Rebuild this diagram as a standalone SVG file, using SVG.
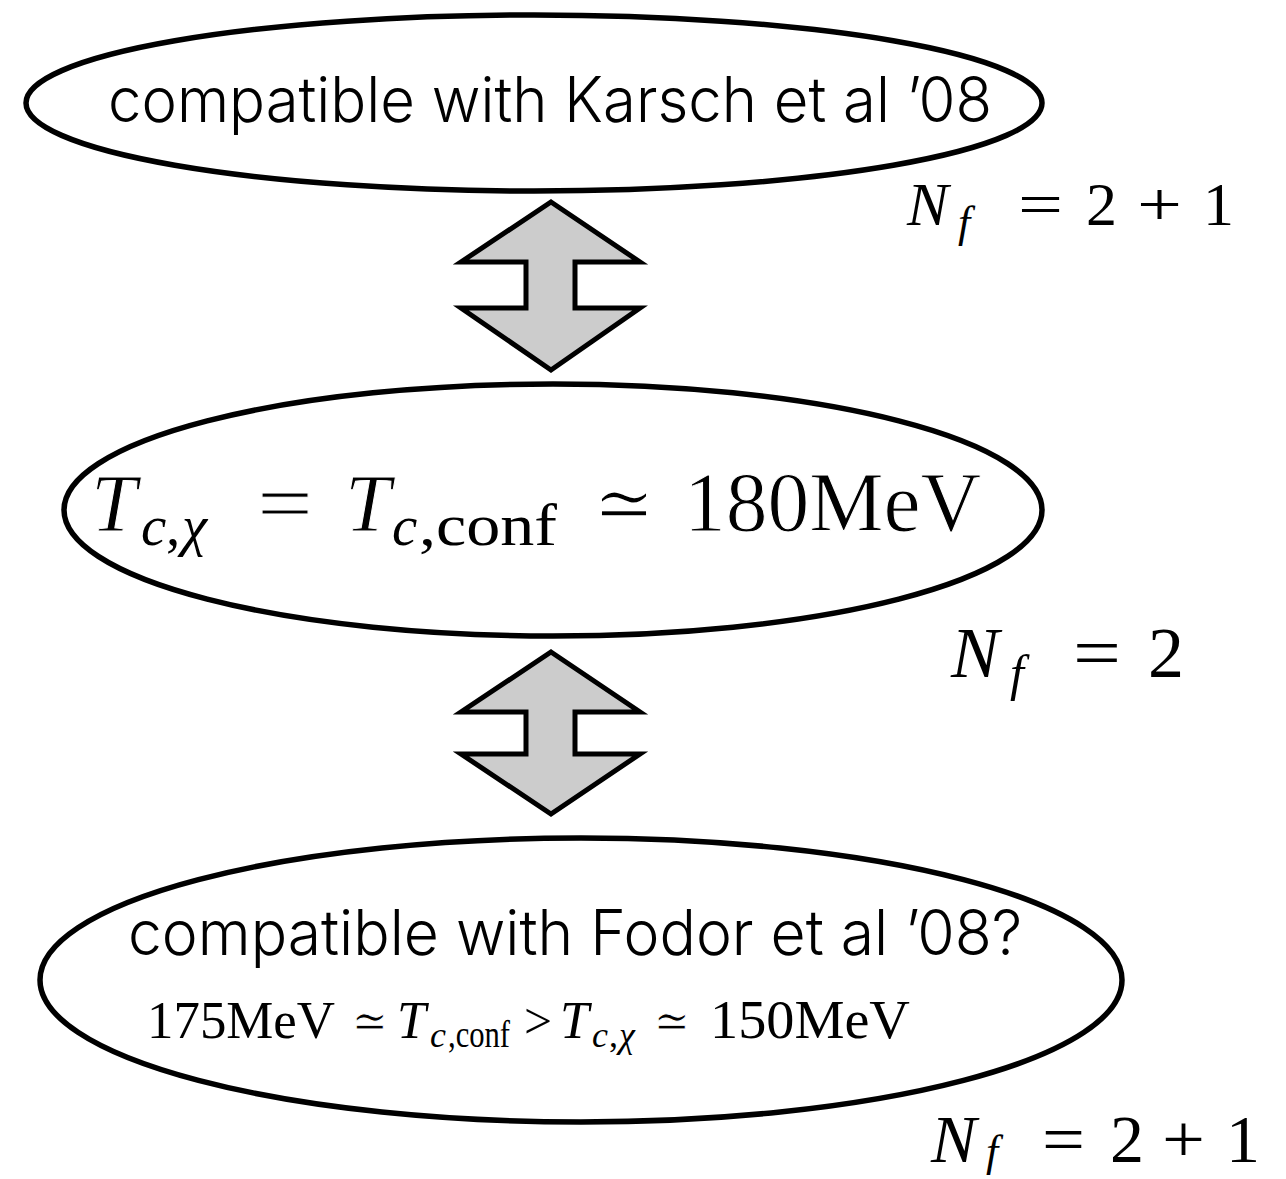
<svg xmlns="http://www.w3.org/2000/svg" width="1286" height="1179" viewBox="0 0 1286 1179">
<style>
.node{fill:#ffffff;stroke:#000000;stroke-width:5.5}
.arrow{fill:#cccccc;stroke:#000000;stroke-width:5;stroke-linejoin:miter}
.sans{font-family:"Inter","Liberation Sans",Arial,sans-serif;font-weight:300;fill:#000000}
.m{font-family:"Liberation Serif","DejaVu Serif",serif;fill:#000000}
.i{font-style:italic}
.thin{stroke:#ffffff;stroke-width:1}
.thin2{stroke:#ffffff;stroke-width:2.5}
</style>
<rect width="1286" height="1179" fill="#ffffff"/>
<g id="connectors">
<polygon class="arrow" points="551,202 640,262 575,262 575,308 640,308 551,370 461,308 526,308 526,262 461,262"/>
<polygon class="arrow" points="551,652 640,712 575,712 575,754 640,754 551,814 461,754 526,754 526,712 461,712"/>
</g>
<g id="node-karsch">
<ellipse class="node" cx="534" cy="103" rx="508" ry="88"/>
<text class="sans" x="108" y="122" font-size="63" textLength="884" lengthAdjust="spacingAndGlyphs">compatible with Karsch et al ’08</text>
</g>
<g id="node-tc">
<ellipse class="node" cx="553" cy="510" rx="489" ry="126"/>
<text class="m i thin" x="91" y="531" font-size="82">T</text>
<text class="m i" x="141" y="545" font-size="57">c</text>
<text class="m" x="166" y="545" font-size="57">,</text>
<text class="m i" x="182" y="545" font-size="57">χ</text>
<text class="m thin" x="257" y="531" font-size="82" textLength="56" lengthAdjust="spacingAndGlyphs">=</text>
<text class="m i thin" x="345" y="531" font-size="82">T</text>
<text class="m i" x="392" y="545" font-size="57">c</text>
<text class="m" x="419" y="545" font-size="60" textLength="138" lengthAdjust="spacingAndGlyphs">,conf</text>
<text class="m thin2" x="593" y="531" font-size="82" textLength="62" lengthAdjust="spacingAndGlyphs">≃</text>
<text class="m thin" x="684" y="531" font-size="84" textLength="297" lengthAdjust="spacingAndGlyphs">180MeV</text>
</g>
<g id="node-fodor">
<ellipse class="node" cx="581" cy="980" rx="541" ry="142"/>
<text class="sans" x="128" y="955" font-size="63" textLength="894" lengthAdjust="spacingAndGlyphs">compatible with Fodor et al ’08?</text>
<text class="m" x="147" y="1038" font-size="53" textLength="188" lengthAdjust="spacingAndGlyphs">175MeV</text>
<text class="m thin" x="352" y="1038" font-size="50" textLength="36" lengthAdjust="spacingAndGlyphs">≃</text>
<text class="m i" x="397" y="1038" font-size="52">T</text>
<text class="m i" x="430" y="1047" font-size="36">c</text>
<text class="m" x="448" y="1047" font-size="37" textLength="62" lengthAdjust="spacingAndGlyphs">,conf</text>
<text class="m" x="524" y="1038" font-size="50" textLength="28" lengthAdjust="spacingAndGlyphs">&gt;</text>
<text class="m i" x="560" y="1038" font-size="52">T</text>
<text class="m i" x="592" y="1047" font-size="36">c</text>
<text class="m" x="609" y="1047" font-size="36">,</text>
<text class="m i" x="619" y="1047" font-size="36">χ</text>
<text class="m thin" x="654" y="1038" font-size="50" textLength="36" lengthAdjust="spacingAndGlyphs">≃</text>
<text class="m" x="710" y="1038" font-size="55" textLength="200" lengthAdjust="spacingAndGlyphs">150MeV</text>
</g>
<g id="label-nf-top">
<text class="m i" x="907" y="225" font-size="62">N</text>
<text class="m i" x="958" y="237" font-size="44">f</text>
<text class="m" x="1018" y="225" font-size="62" textLength="45" lengthAdjust="spacingAndGlyphs">=</text>
<text class="m" x="1086" y="225" font-size="62">2</text>
<text class="m" x="1137" y="225" font-size="62" textLength="45" lengthAdjust="spacingAndGlyphs">+</text>
<text class="m" x="1203" y="225" font-size="62">1</text>
</g>
<g id="label-nf-mid">
<text class="m i" x="951" y="677" font-size="72">N</text>
<text class="m i" x="1010" y="690" font-size="50">f</text>
<text class="m" x="1073" y="677" font-size="72" textLength="48" lengthAdjust="spacingAndGlyphs">=</text>
<text class="m" x="1148" y="677" font-size="72">2</text>
</g>
<g id="label-nf-bottom">
<text class="m i" x="931" y="1162" font-size="68">N</text>
<text class="m i" x="986" y="1166" font-size="44">f</text>
<text class="m" x="1042" y="1162" font-size="68" textLength="43" lengthAdjust="spacingAndGlyphs">=</text>
<text class="m" x="1110" y="1162" font-size="68">2</text>
<text class="m" x="1162" y="1162" font-size="68" textLength="43" lengthAdjust="spacingAndGlyphs">+</text>
<text class="m" x="1226" y="1162" font-size="68">1</text>
</g>
</svg>
